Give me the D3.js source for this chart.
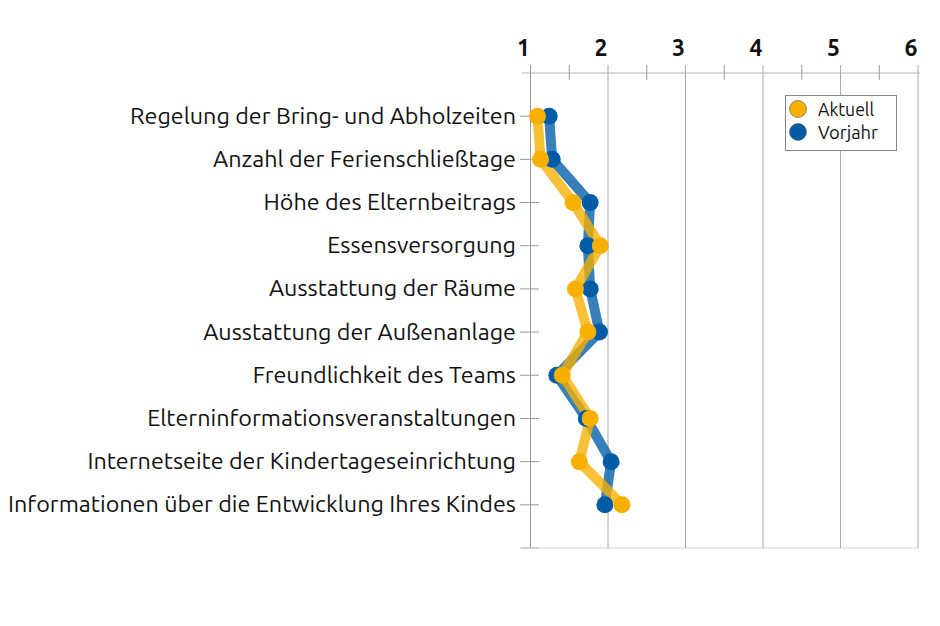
<!DOCTYPE html>
<html><head><meta charset="utf-8">
<script src="https://cdn.jsdelivr.net/npm/d3@7"></script>
<style>body{margin:0;background:#fff}svg{display:block}</style>
</head><body>
<svg id="c" width="940" height="626"></svg>
<script>
const categories = [
  "Regelung der Bring- und Abholzeiten",
  "Anzahl der Ferienschließtage",
  "Höhe des Elternbeitrags",
  "Essensversorgung",
  "Ausstattung der Räume",
  "Ausstattung der Außenanlage",
  "Freundlichkeit des Teams",
  "Elterninformationsveranstaltungen",
  "Internetseite der Kindertageseinrichtung",
  "Informationen über die Entwicklung Ihres Kindes"
];
const aktuell = [1.09, 1.13, 1.55, 1.90, 1.58, 1.74, 1.41, 1.77, 1.63, 2.18];
const vorjahr = [1.24, 1.28, 1.77, 1.74, 1.77, 1.89, 1.34, 1.72, 2.04, 1.96];
const tickValues = [1, 2, 3, 4, 5, 6];
const minorTicks = [1.5, 2.5, 3.5, 4.5, 5.5];
const seriesNames = ["Aktuell", "Vorjahr"];
const colors = ["#f7b000", "#005ca6"];

(function () {
const svg = d3.select("#c");
const font = "Ubuntu, 'Open Sans', 'DejaVu Sans', sans-serif";
const x = d3.scaleLinear().domain([1, 6]).range([530.5, 918]);
const y = d3.scalePoint().domain(["__top", ...categories, "__bot"]).range([73, 548]);
const yTop = 73, yBot = 548;

svg.append("line").attr("x1", 522).attr("x2", 919).attr("y1", yBot).attr("y2", yBot)
  .attr("stroke", "#e0e0e0").attr("stroke-width", 1.5);
svg.append("line").attr("x1", 522).attr("x2", 920).attr("y1", yTop).attr("y2", yTop)
  .attr("stroke", "#cccccc").attr("stroke-width", 1.5);
svg.selectAll("line.grid").data(tickValues).join("line").attr("class", "grid")
  .attr("x1", d => x(d)).attr("x2", d => x(d)).attr("y1", 65).attr("y2", yBot)
  .attr("stroke", d => d === 1 ? "#999" : "#aaa").attr("stroke-width", 1);
svg.selectAll("line.minor").data(minorTicks).join("line").attr("class", "minor")
  .attr("x1", d => x(d)).attr("x2", d => x(d)).attr("y1", 65).attr("y2", 80)
  .attr("stroke", "#999").attr("stroke-width", 1);
svg.selectAll("text.tick").data(tickValues).join("text").attr("class", "tick")
  .attr("x", d => x(d) - 7).attr("y", 56).attr("text-anchor", "middle")
  .attr("font-family", font).attr("font-weight", "bold").attr("font-size", 23)
  .attr("fill", "#111").text(d => d);
svg.selectAll("line.ytick").data(categories).join("line").attr("class", "ytick")
  .attr("x1", 520).attr("x2", 539).attr("y1", d => y(d)).attr("y2", d => y(d))
  .attr("stroke", "#999").attr("stroke-width", 1);
svg.append("line").attr("x1", 520).attr("x2", 539).attr("y1", yBot).attr("y2", yBot)
  .attr("stroke", "#bbb");
const labels = svg.selectAll("text.lab").data(categories).join("text").attr("class", "lab")
  .attr("x", 516).attr("y", d => y(d) + 7.5).attr("text-anchor", "end")
  .attr("font-family", font).attr("font-size", 20).attr("fill", "#111")
  .attr("font-weight", 400).text(d => d);
const longest = labels.filter((d, i) => i === categories.length - 1).node();
const w = longest.getComputedTextLength();
const fs = 20 * 508 / w;
labels.attr("font-size", fs);

const series = [vorjahr, aktuell];
const sColors = [colors[1], colors[0]];
const line = d3.line().x(d => x(d.v)).y(d => y(d.c));
series.forEach((vals, si) => {
  const pts = vals.map((v, i) => ({ v, c: categories[i] }));
  svg.append("path").datum(pts).attr("d", line).attr("fill", "none")
    .attr("stroke", sColors[si]).attr("stroke-width", 10).attr("stroke-opacity", 0.78)
    .attr("stroke-linejoin", "round");
});
series.forEach((vals, si) => {
  svg.selectAll(null).data(vals.map((v, i) => ({ v, c: categories[i] }))).join("circle")
    .attr("cx", d => x(d.v)).attr("cy", d => y(d.c)).attr("r", 8.5).attr("fill", sColors[si]);
});

const lg = svg.append("g");
lg.append("rect").attr("x", 785.5).attr("y", 95.5).attr("width", 111).attr("height", 55)
  .attr("fill", "#fff").attr("stroke", "#888").attr("stroke-width", 1);
seriesNames.forEach((n, i) => {
  lg.append("circle").attr("cx", 798).attr("cy", 109 + i * 23).attr("r", 8.5)
    .attr("fill", colors[i]).attr("stroke", "#555").attr("stroke-width", 0.6);
  lg.append("text").attr("x", 818).attr("y", 115.5 + i * 23).attr("font-family", font)
    .attr("font-size", 19).attr("fill", "#111").text(n)
    .attr("textLength", i === 0 ? 56 : 60).attr("lengthAdjust", "spacingAndGlyphs");
});
})();
</script>
</body></html>
